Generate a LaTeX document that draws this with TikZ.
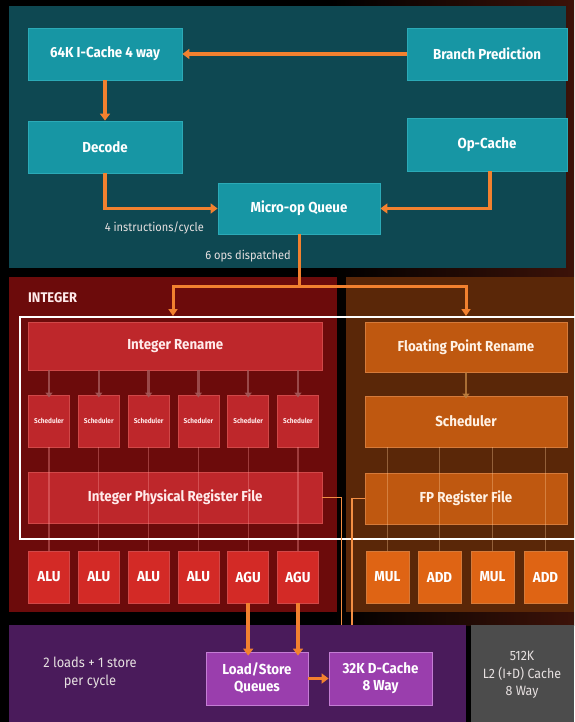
\documentclass[tikz,border=0pt]{standalone}
\usepackage{fontspec}
\setmainfont{Fira Sans}[FakeStretch=0.92]
\usetikzlibrary{arrows.meta}
\definecolor{toppanel}{HTML}{0E4852}
\definecolor{tealbox}{HTML}{1796A4}
\definecolor{tealedge}{HTML}{2BAAB7}
\definecolor{orng}{HTML}{F2812F}
\definecolor{intpanel}{HTML}{6C0B0B}
\definecolor{intbox}{HTML}{BE272B}
\definecolor{intedge}{HTML}{D04848}
\definecolor{alubox}{HTML}{D32A26}
\definecolor{fppanel}{HTML}{5A2708}
\definecolor{fpbox}{HTML}{BF5810}
\definecolor{fpedge}{HTML}{D57A3A}
\definecolor{mulbox}{HTML}{DF6414}
\definecolor{purpanel}{HTML}{4A1B5B}
\definecolor{purbox}{HTML}{9A3EAD}
\definecolor{puredge}{HTML}{C47DD4}
\definecolor{graypanel}{HTML}{4C4C4C}
\definecolor{lbltxt}{HTML}{E6E0E0}
\definecolor{bgred}{HTML}{3C1208}
\begin{document}
\begin{tikzpicture}[x=1pt,y=-1pt,
  box/.style={rectangle, inner sep=0pt, align=center, text=white, font=\bfseries\fontsize{14.5}{17}\selectfont, line width=0.8pt},
  tealb/.style={box, fill=tealbox, draw=tealedge},
  intb/.style={box, fill=intbox, draw=intedge, text=white!92!red},
  schb/.style={intb, font=\bfseries\fontsize{7}{8}\selectfont, minimum width=41, minimum height=52},
  alub/.style={box, fill=alubox, draw=intedge, minimum width=41, minimum height=52},
  fpb/.style={box, fill=fpbox, draw=fpedge, text=white!90!orange},
  mulb/.style={box, fill=mulbox, draw=fpedge, minimum width=43, minimum height=52},
  purb/.style={box, fill=purbox, draw=puredge, minimum width=102, minimum height=53},
  lbl/.style={inner sep=0pt, text=lbltxt, font=\fontsize{12}{14}\selectfont},
  lbl2/.style={inner sep=0pt, align=center, text=lbltxt, font=\fontsize{14}{18}\selectfont},
  arr/.style={draw=orng, line width=3.5pt, -{Triangle[width=10pt,length=7pt]}},
  darr/.style={draw=orng, line width=3pt, -{Triangle[width=9pt,length=7pt]}},
  garr/.style={draw=red!30!gray, opacity=0.8, line width=2.5pt, -{Triangle[width=7pt,length=5pt]}},
  vl/.style={draw=red!40!white, opacity=0.35, line width=1.3pt},
  fvl/.style={draw=orange!40!white, opacity=0.35, line width=1.3pt},
  thinor/.style={draw=orng!90!white, line width=1.8pt}
]
\fill[black] (0,0) rectangle (574,722);
\useasboundingbox (0,0) rectangle (574,722);
\shade[left color=black, right color=bgred] (330,0) rectangle (574,625);
% panels
\fill[toppanel] (9,6) rectangle (566,268);
\fill[intpanel] (9,277) rectangle (337,612);
\fill[fppanel] (346,277) rectangle (574,612);
\fill[purpanel] (9,625) rectangle (466,722);
\fill[graypanel] (471,625) rectangle (574,722);

% front end
\node[tealb, minimum width=154, minimum height=52] (icache) at (105,54) {64K I-Cache 4 way};
\node[tealb, minimum width=160, minimum height=52] (bp) at (487,54) {Branch Prediction};
\node[tealb, minimum width=154, minimum height=52] (decode) at (105,147) {Decode};
\node[tealb, minimum width=160, minimum height=53] (opcache) at (487,144.5) {Op-Cache};
\node[tealb, minimum width=162, minimum height=51] (moq) at (299,208.5) {Micro-op Queue};
\node[lbl, anchor=east] (lab4) at (204,228) {4 instructions/cycle};
\node[lbl] (lab6) at (248,256) {6 ops dispatched};

\draw[arr] (bp.west) -- (icache.east);
\draw[arr] (icache.south) -- (decode.north);
\draw[arr] (decode.south) |- (moq.west);
\draw[arr] ([xshift=3pt]opcache.south) |- (moq.east);

\coordinate (dl) at (173,286);
\coordinate (dr) at (466,286);
\coordinate (dlt) at (173,316);
\coordinate (drt) at (466,316);
\draw[darr] (moq.south) |- (dl) -- (dlt);
\draw[darr] (moq.south) |- (dr) -- (drt);

% integer
\node[anchor=west, inner sep=0pt, text=white!92!red, font=\bfseries\fontsize{14}{16}\selectfont] (intlbl) at (28,298) {INTEGER};
\node[intb, minimum width=293.5, minimum height=48] (irn) at (175.25,346) {Integer Rename};
\node[intb, minimum width=293.5, minimum height=51] (iprf) at (175.25,497.5) {Integer Physical Register File};
\foreach \i/\t in {0/ALU,1/ALU,2/ALU,3/ALU,4/AGU,5/AGU}{
  \pgfmathsetmacro\cx{49+49.8*\i}
  \node[schb] (s\i) at (\cx,421) {Scheduler};
  \node[alub] (a\i) at (\cx,577) {\t};
  \draw[garr] (irn.south -| s\i) -- ([yshift=-3pt]s\i.north);
  \draw[vl] (s\i.south) -- (a\i.north);
}

% floating point
\node[fpb, minimum width=202, minimum height=50] (frn) at (466,347) {Floating Point Rename};
\node[fpb, minimum width=202, minimum height=51] (fsch) at (466,421.5) {Scheduler};
\node[fpb, minimum width=202, minimum height=51] (frf) at (466,498.5) {FP Register File};
\draw[garr, draw=orange!50!gray] (frn.south) -- ([yshift=-3pt]fsch.north);
\foreach \i/\t/\x in {0/MUL/387.5,1/ADD/439.5,2/MUL/492.5,3/ADD/545.5}{
  \node[mulb] (m\i) at (\x,577) {\t};
  \draw[fvl] (fsch.south -| m\i) -- (m\i.north);
}

% highlight frame
\draw[white, line width=2pt] (20,317) rectangle (580,538.5);

% register files to D-cache
\coordinate (p1) at (341.5,625);
\coordinate (p2) at (352,625);
\draw[thinor] (iprf.east) -| (p1);
\draw[thinor] (frf.west) -| (p2);

% load/store
\node[lbl2] (ldtxt) at (90,673) {2 loads + 1 store\\per cycle};
\node[purb] (lsq) at (257,678.5) {Load/Store\\Queues};
\node[purb, minimum width=103] (dc) at (380.5,678.5) {32K D-Cache\\8 Way};
\draw[arr] (lsq.east) -- (dc.west);
\draw[arr] (a4.south) -- ([yshift=-4pt]lsq.north -| a4);
\draw[arr] (a5.south) -- ([yshift=-4pt]lsq.north -| a5);

% L2
\node[lbl2, font=\fontsize{13.5}{17.5}\selectfont] (l2) at (522,675) {512K\\L2 (I+D) Cache\\8 Way};
\end{tikzpicture}
\end{document}
